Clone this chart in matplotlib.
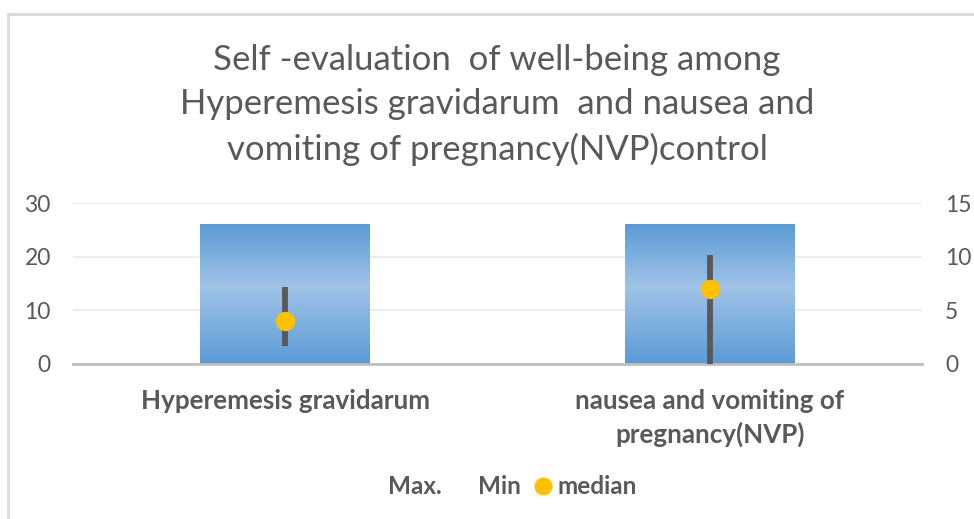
import numpy as np
import matplotlib.pyplot as plt
from matplotlib.lines import Line2D
from matplotlib.patches import Rectangle
from matplotlib.colors import LinearSegmentedColormap

plt.rcParams['font.family'] = ['Lato', 'DejaVu Sans']

# data
categories = ['Hyperemesis gravidarum', 'nausea and vomiting of\npregnancy(NVP)']
bar_values = [26, 26]          # primary axis (0-30)
max_values = [7.2, 10.2]       # secondary axis (0-15)
min_values = [1.7, 0.0]
median_values = [4, 7]
series_names = ['Max.', 'Min', 'median']

title = ('Self -evaluation  of well-being among\n'
         'Hyperemesis gravidarum  and nausea and\n'
         'vomiting of pregnancy(NVP)control')

text_col = '#595959'
grid_col = '#ededed'

fig = plt.figure(figsize=(9.74, 5.19), dpi=100)
# chart-area border (right/bottom edges fall outside the image)
fig.patches.append(Rectangle((8 / 974, -0.1), 1.2, 1.1 - 14 / 519, transform=fig.transFigure,
                             fill=False, edgecolor='#d9d9d9', linewidth=2))

ax = fig.add_axes([73 / 974, (519 - 364) / 519, (922 - 73) / 974, (364 - 203) / 519])
ax2 = ax.twinx()

x = np.arange(len(categories))
bars = ax.bar(x, bar_values, width=0.4, color='none', zorder=2)

# vertical gradient fill inside each bar
grad = np.concatenate([np.linspace(0, 1, 55), np.linspace(1, 0, 45)])[:, None]
cmap = LinearSegmentedColormap.from_list('g', ['#5b9bd5', '#9fc3e7'])
for b in bars:
    x0, y0 = b.get_x(), b.get_y()
    im = ax.imshow(grad, cmap=cmap, aspect='auto', origin='lower',
                   extent=[x0, x0 + b.get_width(), y0, y0 + b.get_height()], zorder=2)
    im.set_clip_path(b)

ax.set_xlim(-0.5, 1.5)
ax.set_ylim(0, 30)
ax.set_yticks([0, 10, 20, 30])
ax.set_xticks(x)
ax.set_xticklabels(categories, fontweight='bold', fontsize=18.7, color=text_col,
                   va='top', linespacing=1.42)
ax.tick_params(axis='x', length=0, pad=18)
ax.tick_params(axis='y', length=0, pad=16, labelsize=16.5, labelcolor=text_col)
ax.grid(axis='y', color=grid_col, linewidth=1.5, zorder=0)
ax.set_axisbelow(True)
for s in ['top', 'right', 'left']:
    ax.spines[s].set_visible(False)
ax.spines['bottom'].set_color('#bfbfbf')
ax.spines['bottom'].set_linewidth(2)

# high-low lines and median on the secondary axis
ax2.vlines(x, min_values, max_values, color=text_col, linewidth=4.2, zorder=3, clip_on=False)
ax2.plot(x, median_values, linestyle='none', marker='o', markersize=13,
         color='#ffc000', zorder=4, clip_on=False)
ax2.set_ylim(0, 15)
ax2.set_yticks([0, 5, 10, 15])
ax2.tick_params(axis='y', length=0, pad=16.5, labelsize=16.5, labelcolor=text_col)
for s in ax2.spines.values():
    s.set_visible(False)
ax.set_zorder(1)
ax2.set_zorder(2)
ax.patch.set_visible(False)

fig.text(497 / 974, 1 - 105 / 519, title, ha='center', va='center', fontsize=25,
         color=text_col, linespacing=1.46)

handles = [Line2D([], [], color='none'),
           Line2D([], [], color='none'),
           Line2D([], [], linestyle='none', marker='o', markersize=12, color='#ffc000')]
leg = fig.legend(handles, series_names, loc='center',
                 bbox_to_anchor=(500 / 974, 1 - 487 / 519), ncol=3, frameon=False,
                 handlelength=0.8, handletextpad=0.2, columnspacing=0.5,
                 prop={'weight': 'bold', 'size': 17.5})
for t in leg.get_texts():
    t.set_color(text_col)

fig.savefig('out.png', dpi=100)
